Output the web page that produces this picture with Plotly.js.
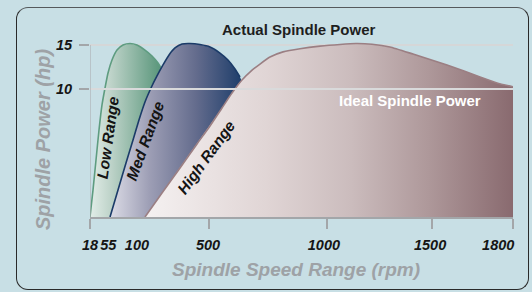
<!DOCTYPE html>
<html>
<head>
<meta charset="utf-8">
<script src="https://cdn.plot.ly/plotly-3.0.1.min.js"></script>
<style>
  html, body { margin:0; padding:0; background:#c8dfe5; }
  #frame { position:absolute; left:16px; top:7px; width:513px; height:283px; box-sizing:border-box;
           border:1.5px solid #2a2a2a; border-top-color:#55595c; border-radius:12px; }
  #chart { position:absolute; left:0; top:0; width:532px; height:292px; }
</style>
</head>
<body>
<div id="frame"></div>
<div id="chart"></div>
<script>
// Schematic axes: x and y are relative display positions (the original chart is not to scale).
// Tick marks and tick labels
const xTickMarks = [0, 28.1, 56.0, 80.8, 100];
const xLabelPos  = [0, 4.3, 11.1, 27.9, 55.3, 80.4, 96.5];
const xLabels    = ['18', '55', '100', '500', '1000', '1500', '1800'];
const yTickVals  = [11.16, 15];
const yLabels    = ['10', '15'];

// Range curves (visible edge), in display units
const lowX  = [0, 0.71, 1.42, 2.13, 2.84, 3.55, 4.26, 5.20, 6.38, 7.80, 9.46, 11.11, 13.0, 14.66, 16.08, 17.26];
const lowY  = [0, 2.35, 4.97, 7.59, 9.77, 11.25, 12.56, 13.69, 14.56, 15.0, 15.13, 15.0, 14.56, 14.04, 13.43, 12.73];
const lowHiddenX = [17.97, 16.55, 11.82];
const lowHiddenY = [11.77, 7.59, 0];

const medX = [4.73, 6.62, 8.51, 10.17, 11.58, 13.0, 14.42, 15.84, 17.26, 18.68, 20.09, 21.75, 23.64, 26.0, 28.37, 30.73, 32.62, 34.28, 35.46];
const medY = [0, 2.35, 4.71, 6.71, 8.46, 10.03, 11.25, 12.30, 13.26, 14.13, 14.74, 15.09, 15.13, 15.04, 14.83, 14.30, 13.69, 12.91, 12.21];
const medHiddenX = [36.88, 35.46, 30.73];
const medHiddenY = [10.90, 6.71, 0];

const highX = [13.0, 17.02, 21.28, 25.30, 28.37, 31.21, 33.57, 35.93, 38.06, 40.19, 42.55, 45.63, 49.65, 54.37, 59.10, 62.88, 66.67, 70.92, 76.36, 80.38, 84.40, 88.42, 92.20, 96.22, 100];
const highY = [0, 2.09, 4.27, 6.37, 7.94, 9.51, 10.81, 11.95, 12.73, 13.34, 13.95, 14.40, 14.68, 14.90, 15.05, 15.13, 15.07, 14.83, 14.21, 13.74, 13.26, 12.73, 12.21, 11.69, 11.35];
const highCloseX = [100];
const highCloseY = [0];

const FONT = 'Liberation Sans, Arial, Helvetica, sans-serif';

function fillTrace(x, y, hx, hy, scale, start, stop) {
  return {
    x: x.concat(hx), y: y.concat(hy), type: 'scatter', mode: 'lines',
    fill: 'toself', line: {width: 0},
    fillgradient: {type: 'horizontal', colorscale: scale, start: start, stop: stop},
    hoverinfo: 'skip', showlegend: false
  };
}
function lineTrace(x, y, color) {
  return {x: x, y: y, type: 'scatter', mode: 'lines', line: {color: color, width: 1.6, shape: 'spline', smoothing: 0.5},
          hoverinfo: 'skip', showlegend: false};
}
const ital = arr => arr.map(t => '<i>' + t + '</i>');

const traces = [
  fillTrace(lowX, lowY, lowHiddenX, lowHiddenY,
            [[0, '#e2ede8'], [0.3, '#bed3c9'], [1, '#5b977c']], 0, 16.5),
  lineTrace(lowX, lowY, '#5e9c80'),
  fillTrace(medX, medY, medHiddenX, medHiddenY,
            [[0, '#dcdce6'], [0.3, '#9d9eb5'], [0.65, '#646c8d'], [1, '#1d3d6a']], 4.7, 36),
  lineTrace(medX, medY, '#1b3b68'),
  fillTrace(highX, highY, highCloseX, highCloseY,
            [[0, '#f5f1f1'], [0.33, '#e0d5d5'], [0.56, '#cbbcbd'], [0.77, '#ae989a'], [1, '#896a6f']], 13, 100),
  lineTrace(highX, highY, '#9b7f83')
];

const tickFont = {family: FONT, size: 14.5, color: '#151515', style: 'italic', weight: 'bold'};
const titleFont = {family: FONT, size: 19, color: '#9ea2a6', style: 'italic', weight: 'bold'};
const rangeFont = {family: FONT, size: 15.5, color: '#141414', style: 'italic', weight: 'bold'};

const layout = {
  width: 532, height: 292,
  margin: {l: 90, r: 19, t: 41, b: 75, pad: 0},
  paper_bgcolor: 'rgba(0,0,0,0)', plot_bgcolor: 'rgba(0,0,0,0)',
  showlegend: false,
  xaxis: {
    range: [0, 100], showgrid: false, zeroline: false,
    showline: true, linecolor: '#a3a6a9', linewidth: 2,
    tickmode: 'array', tickvals: xLabelPos, ticktext: ital(xLabels), ticks: '', tickangle: 0,
    ticklabelstandoff: 14, tickfont: tickFont,
    minor: {tickmode: 'array', tickvals: xTickMarks, ticks: 'outside', ticklen: 10, tickwidth: 2, tickcolor: '#a3a6a9', showgrid: false}
  },
  yaxis: {
    range: [0, 15.35], showgrid: false, zeroline: false, showline: false,
    tickmode: 'array', tickvals: yTickVals, ticktext: ital(yLabels),
    ticks: 'outside', ticklen: 10, tickwidth: 2, tickcolor: '#a3a6a9',
    ticklabelstandoff: 4, tickfont: tickFont
  },
  shapes: [
    {type: 'line', xref: 'x', yref: 'y', x0: 0, x1: 100, y0: 15, y1: 15, layer: 'below', line: {color: '#d5d7d8', width: 2}},
    {type: 'line', xref: 'x', yref: 'y', x0: 0, x1: 100, y0: 11.16, y1: 11.16, layer: 'above', line: {color: '#d9dadb', width: 2}},
    {type: 'line', xref: 'x', yref: 'y', x0: 0, x1: 0, y0: 0, y1: 15, layer: 'above', line: {color: '#aeb1b4', width: 1.2}}
  ],
  annotations: [
    {text: 'Actual Spindle Power', x: 0.494, y: 1.063, xref: 'paper', yref: 'paper', showarrow: false,
     xanchor: 'center', yanchor: 'middle', font: {family: FONT, size: 15, color: '#1e1e1e', weight: 'bold'}},
    {text: 'Ideal Spindle Power', x: 75.65, y: 10.2, xref: 'x', yref: 'y', showarrow: false,
     font: {family: FONT, size: 15, color: '#ffffff', weight: 'bold'}},
    {text: 'Low Range', x: 4.3, y: 6.9, xref: 'x', yref: 'y', showarrow: false, textangle: -82, font: rangeFont},
    {text: 'Med Range', x: 13.0, y: 6.7, xref: 'x', yref: 'y', showarrow: false, textangle: -70, font: rangeFont},
    {text: 'High Range', x: 27.4, y: 5.2, xref: 'x', yref: 'y', showarrow: false, textangle: -54, font: rangeFont},
    {text: 'Spindle Speed Range (rpm)', x: 0.487, y: -0.301, xref: 'paper', yref: 'paper', showarrow: false,
     xanchor: 'center', yanchor: 'middle', font: titleFont},
    {text: 'Spindle Power (hp)', x: -0.111, y: 0.4375, xref: 'paper', yref: 'paper', showarrow: false,
     textangle: -90, xanchor: 'center', yanchor: 'middle', font: Object.assign({}, titleFont, {size: 20})}
  ]
};

Plotly.newPlot('chart', traces, layout, {staticPlot: true, displayModeBar: false});
</script>
</body>
</html>
